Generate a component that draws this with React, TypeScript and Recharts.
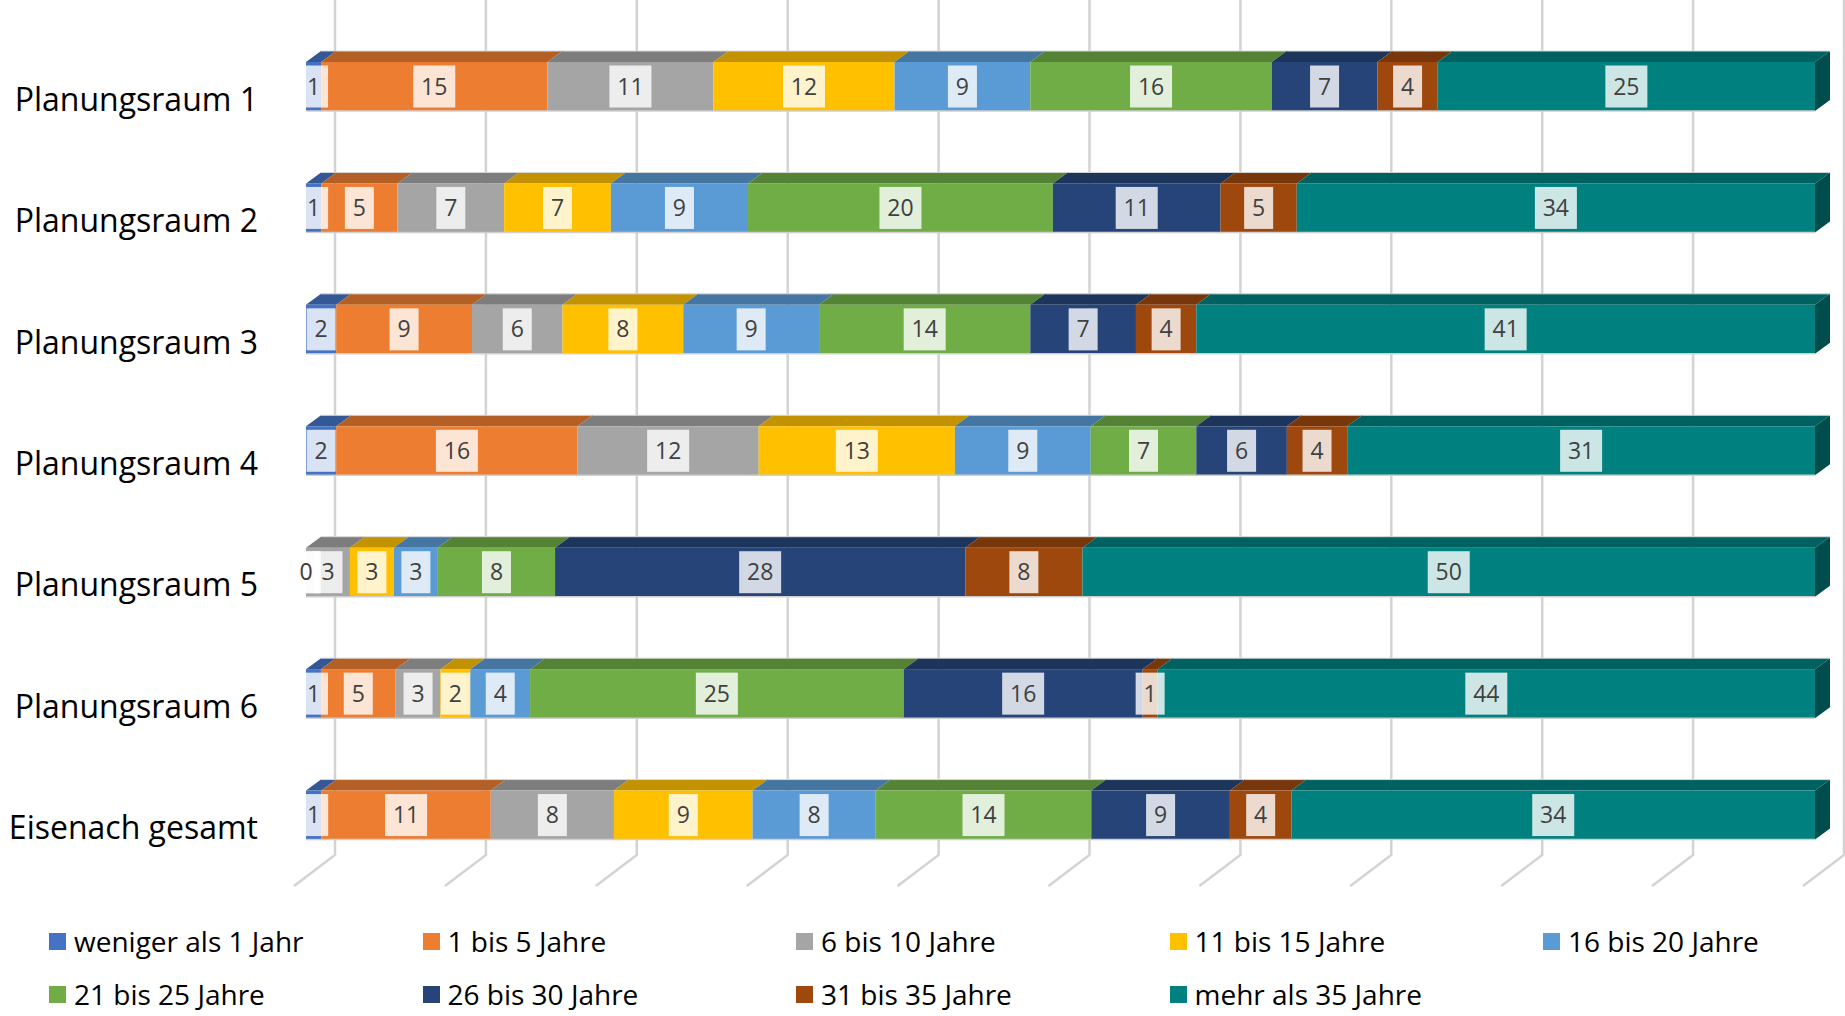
import { BarChart, Bar, XAxis, YAxis, CartesianGrid, LabelList } from "recharts"

const categories = [
  "Planungsraum 1",
  "Planungsraum 2",
  "Planungsraum 3",
  "Planungsraum 4",
  "Planungsraum 5",
  "Planungsraum 6",
  "Eisenach gesamt",
]

const seriesNames = [
  "weniger als 1 Jahr",
  "1 bis 5 Jahre",
  "6 bis 10 Jahre",
  "11 bis 15 Jahre",
  "16 bis 20 Jahre",
  "21 bis 25 Jahre",
  "26 bis 30 Jahre",
  "31 bis 35 Jahre",
  "mehr als 35 Jahre",
]

const seriesColors = [
  "#4472C4",
  "#ED7D31",
  "#A5A5A5",
  "#FFC000",
  "#5B9BD5",
  "#70AD47",
  "#264478",
  "#9E480E",
  "#00807F",
]

// percent per Planungsraum, one array per age group
const weniger1 = [1, 1, 2, 2, 0, 1, 1]
const j1bis5 = [15, 5, 9, 16, 0, 5, 11]
const j6bis10 = [11, 7, 6, 12, 3, 3, 8]
const j11bis15 = [12, 7, 8, 13, 3, 2, 9]
const j16bis20 = [9, 9, 9, 9, 3, 4, 8]
const j21bis25 = [16, 20, 14, 7, 8, 25, 14]
const j26bis30 = [7, 11, 7, 6, 28, 16, 9]
const j31bis35 = [4, 5, 4, 4, 8, 1, 4]
const mehr35 = [25, 34, 41, 31, 50, 44, 34]

const seriesValues = [weniger1, j1bis5, j6bis10, j11bis15, j16bis20, j21bis25, j26bis30, j31bis35, mehr35]

const xTicks = [0, 0.1, 0.2, 0.3, 0.4, 0.5, 0.6, 0.7, 0.8, 0.9, 1]

const rows = categories.map((name, i) => {
  const row: Record<string, string | number> = { name }
  seriesValues.forEach((vals, s) => {
    row["s" + s] = vals[i]
  })
  return row
})

const FONT = "'Open Sans', sans-serif"
const DX = 15
const DY = 11

function shade(hex: string, f: number) {
  const n = parseInt(hex.slice(1), 16)
  const r = Math.round(((n >> 16) & 255) * f)
  const g = Math.round(((n >> 8) & 255) * f)
  const b = Math.round((n & 255) * f)
  return `rgb(${r},${g},${b})`
}

const makeShape = (color: string, isLast: boolean) => (props: any) => {
  const { x, y, width, height } = props
  if (!width || width <= 0) return <g />
  const top = `${x},${y} ${x + DX},${y - DY} ${x + width + DX},${y - DY} ${x + width},${y}`
  const side = `${x + width},${y} ${x + width + DX},${y - DY} ${x + width + DX},${y + height - DY} ${x + width},${y + height}`
  return (
    <g>
      <polygon points={top} fill={shade(color, 0.76)} />
      <rect x={x} y={y} width={width} height={height} fill={color} />
      {isLast && <polygon points={side} fill={shade(color, 0.6)} />}
      <line x1={x} y1={y + height} x2={x + width} y2={y + height} stroke="#cfcfcf" strokeWidth={1.5} />
      <line x1={x + DX} y1={y - DY} x2={x + width + DX} y2={y - DY} stroke="#d8d8d8" strokeWidth={1} />
    </g>
  )
}

const renderLabel = (props: any) => {
  const { x, y, width, height, value } = props
  const text = String(value)
  const bw = text.length * 13 + 16
  const bh = 42
  const cx = x + width / 2
  const cy = y + height / 2
  return (
    <g>
      <rect x={cx - bw / 2} y={cy - bh / 2} width={bw} height={bh} fill="#ffffff" fillOpacity={0.8} />
      <text x={cx} y={cy + 8} textAnchor="middle" fontSize={23} fontFamily={FONT} fill="#404040">
        {text}
      </text>
    </g>
  )
}

const gridLine = (props: any) => {
  const { x1, y2 } = props
  return (
    <path
      key={props.key ?? `g-${x1}`}
      d={`M${x1 + 29},0 L${x1 + 29},${y2 - 21} L${x1 - 12},${y2 + 10}`}
      fill="none"
      stroke="#d3d3d3"
      strokeWidth={2.5}
    />
  )
}

const CategoryTick = (props: any) => {
  const { y, payload } = props
  return (
    <text x={258} y={y + 24} textAnchor="end" fontSize={32} fontFamily={FONT} fill="#000">
      {payload.value}
    </text>
  )
}

export default function App() {
  return (
    <div style={{ position: "absolute", left: 0, top: 0, width: 1845, height: 1016, background: "#fff", fontFamily: FONT }}>
      <BarChart
        width={1845}
        height={1016}
        data={rows}
        layout="vertical"
        stackOffset="expand"
        barSize={49}
        margin={{ top: 26, right: 30, bottom: 140, left: 0 }}
      >
        <CartesianGrid horizontal={false} vertical={gridLine} />
        <XAxis type="number" domain={[0, 1]} ticks={xTicks} hide />
        <YAxis type="category" dataKey="name" width={306} axisLine={false} tickLine={false} tick={CategoryTick} />
        {seriesNames.map((name, s) => (
          <Bar
            key={name}
            name={name}
            dataKey={"s" + s}
            stackId="a"
            fill={seriesColors[s]}
            shape={makeShape(seriesColors[s], s === seriesNames.length - 1)}
            isAnimationActive={false}
          >
            <LabelList dataKey={"s" + s} content={renderLabel} />
          </Bar>
        ))}
      </BarChart>
      {seriesNames.map((name, s) => {
        const col = s % 5
        const row = Math.floor(s / 5)
        return (
          <div
            key={name}
            style={{
              position: "absolute",
              left: 49 + col * 373.5,
              top: 921 + row * 53,
              height: 40,
              display: "flex",
              alignItems: "center",
              fontSize: 28,
              color: "#000",
              whiteSpace: "nowrap",
            }}
          >
            <span style={{ display: "inline-block", width: 17, height: 17, background: seriesColors[s], marginRight: 8 }} />
            {name}
          </div>
        )
      })}
    </div>
  )
}
